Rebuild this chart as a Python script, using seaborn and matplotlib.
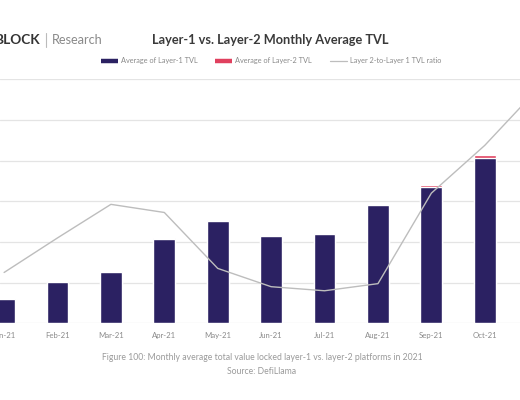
import numpy as np
import pandas as pd
import matplotlib
matplotlib.use("Agg")
import matplotlib.pyplot as plt
from matplotlib.lines import Line2D
import seaborn as sns

# values (TVL in $B, ratio in %)
months = ["Jan-21", "Feb-21", "Mar-21", "Apr-21", "May-21", "Jun-21",
          "Jul-21", "Aug-21", "Sep-21", "Oct-21", "Nov-21"]
layer1_tvl = [29.5, 51.0, 63.0, 104.0, 126.0, 107.0, 110.0, 146.0, 167.0, 203.0, np.nan]
layer2_tvl = [0.2, 0.4, 0.8, 0.9, 0.7, 0.5, 0.5, 0.7, 3.0, 3.6, np.nan]
l2_l1_ratio = [0.50, 0.84, 1.17, 1.09, 0.54, 0.36, 0.32, 0.39, 1.28, 1.75, 2.31]

NAVY = "#2b2162"
RED = "#e0405e"
GREY_LINE = "#bdbdbd"

df = pd.DataFrame({"Month": months, "L1": layer1_tvl, "L2": layer2_tvl})
df["Total"] = df["L1"] + df["L2"]

sns.set_theme(style="white")
plt.rcParams["font.family"] = ["Lato", "DejaVu Sans"]

fig = plt.figure(figsize=(5.2, 4.0), dpi=100)
# the chart is cropped on both sides, so the axes run past the figure edges
ax = fig.add_axes([0, 0.19175, 1, 0.61])

# stacked bars: total in red, layer-1 drawn over it
sns.barplot(data=df, x="Month", y="Total", order=months, color=RED,
            width=0.41, saturation=1, ax=ax, zorder=2)
sns.barplot(data=df, x="Month", y="L1", order=months, color=NAVY,
            width=0.41, saturation=1, ax=ax, zorder=3)

ax.set_xlim(-0.077, 9.66)
ax.set_ylim(0, 300)
ax.set_yticks(np.arange(0, 301, 50))
ax.yaxis.grid(True, color="#e4e4e4", linewidth=0.9, zorder=0)
ax.set_axisbelow(True)
ax.set_yticklabels([])
ax.set_xlabel("")
ax.set_ylabel("")
ax.tick_params(axis="x", length=0, labelsize=5.6, labelcolor="#8a8a8a", pad=6)
ax.tick_params(axis="y", length=0)
for s in ax.spines.values():
    s.set_visible(False)

ax2 = ax.twinx()
sns.lineplot(x=np.arange(len(months)), y=l2_l1_ratio, color=GREY_LINE,
             linewidth=1.0, ax=ax2, zorder=4)
ax2.set_ylim(0, 2.4)
ax2.set_axis_off()
ax.set_xlim(-0.077, 9.66)

# header
fig.text(270 / 520, 1 - 40 / 400, "Layer-1 vs. Layer-2 Monthly Average TVL",
         ha="center", va="center", fontsize=9.2, fontweight="bold", color="#3a3a3a")
fig.text(40 / 520, 1 - 40 / 400, "BLOCK", ha="right", va="center",
         fontsize=9.8, fontweight="bold", color="#333333")
fig.add_artist(Line2D([46 / 520, 46 / 520], [1 - 33 / 400, 1 - 47 / 400],
                      color="#bbbbbb", linewidth=0.8))
fig.text(52 / 520, 1 - 40 / 400, "Research", ha="left", va="center",
         fontsize=9.2, color="#8a8a8a")

handles = [Line2D([], [], color=NAVY, linewidth=3.2, solid_capstyle="butt"),
           Line2D([], [], color=RED, linewidth=3.2, solid_capstyle="butt"),
           Line2D([], [], color=GREY_LINE, linewidth=0.9)]
labels = ["Average of Layer-1 TVL", "Average of Layer-2 TVL", "Layer 2-to-Layer 1 TVL ratio"]
fig.legend(handles, labels, loc="center", bbox_to_anchor=(271 / 520, 1 - 61 / 400),
           ncol=3, frameon=False, fontsize=5.3, labelcolor="#8a8a8a",
           handlelength=2.3, handletextpad=0.4, columnspacing=2.4)

# caption
fig.text(262 / 520, 1 - 357.5 / 400,
         "Figure 100: Monthly average total value locked layer-1 vs. layer-2 platforms in 2021",
         ha="center", va="center", fontsize=6.2, color="#9a9a9a")
fig.text(262 / 520, 1 - 371.5 / 400, "Source: DefiLlama",
         ha="center", va="center", fontsize=6.2, color="#9a9a9a")

fig.savefig("out.png", dpi=100, facecolor="white")
